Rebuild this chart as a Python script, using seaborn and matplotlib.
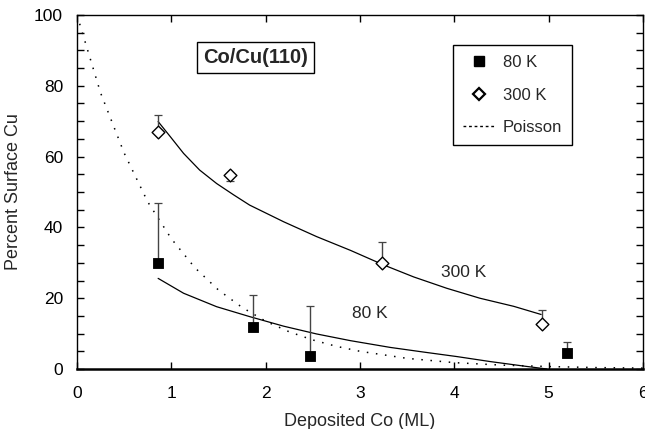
import matplotlib
matplotlib.use("Agg")
import matplotlib.pyplot as plt
from matplotlib.lines import Line2D
from matplotlib.ticker import MultipleLocator
import seaborn as sns
import pandas as pd

# Measured surface Cu fraction at 80 K (filled squares)
cov_80 = [0.86, 1.87, 2.47, 5.19]
cu_80 = [30.0, 12.0, 3.8, 4.5]
err_80_lo = [0.0, 0.0, 0.0, 0.0]
err_80_hi = [17.0, 8.8, 14.0, 3.0]

# Measured surface Cu fraction at 300 K (open diamonds)
cov_300 = [0.86, 1.62, 3.23, 4.93]
cu_300 = [67.0, 54.8, 30.0, 12.7]
err_300_lo = [0.0, 1.8, 0.0, 0.0]
err_300_hi = [4.8, 0.0, 6.0, 3.9]

# Fitted curves
fit300_x = [0.86, 0.99, 1.13, 1.30, 1.48, 1.66, 1.83, 2.19, 2.54, 2.90,
            3.25, 3.57, 3.92, 4.27, 4.63, 4.92]
fit300_y = [69.9, 65.6, 60.9, 56.2, 52.4, 49.2, 46.3, 41.6, 37.4, 33.5,
            29.4, 26.0, 22.8, 20.0, 17.7, 15.4]
fit80_x = [0.86, 1.13, 1.48, 1.83, 2.19, 2.54, 2.90, 3.32, 3.67, 4.03,
           4.38, 4.73, 4.98]
fit80_y = [25.6, 21.4, 17.6, 14.8, 12.1, 9.9, 8.0, 6.1, 4.8, 3.5,
           2.1, 0.85, 0.0]

# Poisson growth model
poisson_x = [0.0, 0.25, 0.5, 0.75, 1.0, 1.25, 1.5, 1.75, 2.0, 2.25, 2.5, 2.75,
             3.0, 3.5, 4.0, 4.5, 5.0, 5.5, 6.0]
poisson_y = [100.0, 78.0, 61.0, 47.2, 36.8, 28.6, 22.3, 17.4, 13.5, 10.5, 8.2, 6.4,
             5.0, 3.0, 1.8, 1.1, 0.7, 0.4, 0.25]

x_ticks = [0, 1, 2, 3, 4, 5, 6]
y_ticks = [0, 20, 40, 60, 80, 100]

sns.set_theme(style="ticks")
plt.rcParams["font.family"] = ["Liberation Sans", "DejaVu Sans"]

fig = plt.figure(figsize=(6.45, 4.29), dpi=100)
ax = fig.add_axes([77 / 645, 1 - 369 / 429, 566 / 645, 354 / 429])

sns.lineplot(x=poisson_x, y=poisson_y, ax=ax, color="black", lw=1.1,
             linestyle=(0, (1, 5)), sort=False)
sns.lineplot(x=fit300_x, y=fit300_y, ax=ax, color="black", lw=0.9, sort=False)
sns.lineplot(x=fit80_x, y=fit80_y, ax=ax, color="black", lw=0.9, sort=False)

ax.errorbar(cov_80, cu_80, yerr=[err_80_lo, err_80_hi], fmt="none",
            ecolor="#444444", elinewidth=1.0, capsize=3, capthick=0.9)
ax.errorbar(cov_300, cu_300, yerr=[err_300_lo, err_300_hi], fmt="none",
            ecolor="#444444", elinewidth=1.0, capsize=3, capthick=0.9)

df80 = pd.DataFrame({"x": cov_80, "y": cu_80})
df300 = pd.DataFrame({"x": cov_300, "y": cu_300})
sns.scatterplot(data=df80, x="x", y="y", ax=ax, marker="s", s=60,
                color="black", edgecolor="black", zorder=5)
sns.scatterplot(data=df300, x="x", y="y", ax=ax, marker="D", s=42,
                facecolor="white", edgecolor="black", linewidth=1.0, zorder=5)

ax.set_xlim(0, 6)
ax.set_ylim(0, 100)
ax.set_xticks(x_ticks)
ax.set_yticks(y_ticks)
ax.yaxis.set_minor_locator(MultipleLocator(5))
ax.tick_params(axis="both", which="both", direction="in", top=True, right=True,
               length=5, width=1.0, colors="black", labelsize=12.5)
ax.tick_params(axis="x", which="major", pad=12)
ax.tick_params(axis="y", which="major", pad=10)
for side, sp in ax.spines.items():
    sp.set_color("black")
    sp.set_linewidth(1.0)
ax.spines["bottom"].set_linewidth(1.8)

ax.set_xlabel("Deposited Co (ML)", fontsize=13, labelpad=9)
ax.set_ylabel("Percent Surface Cu", fontsize=13, labelpad=9)

ax.text(1.89, 88, "Co/Cu(110)", ha="center", va="center", fontsize=14.5,
        fontweight="bold",
        bbox=dict(boxstyle="square,pad=0.3", facecolor="white",
                  edgecolor="black", linewidth=1.0))
ax.text(4.1, 27.4, "300 K", ha="center", va="center", fontsize=12.5)
ax.text(3.1, 15.8, "80 K", ha="center", va="center", fontsize=12.5)

handles = [
    Line2D([], [], marker="s", color="black", ls="none", markersize=7),
    Line2D([], [], marker="D", markerfacecolor="white", markeredgecolor="black",
           markeredgewidth=1.6, ls="none", markersize=6),
    Line2D([], [], color="black", lw=1.0, linestyle=(0, (2, 2))),
]
leg = ax.legend(handles, ["80 K", "300 K", "Poisson"], loc="upper left",
                bbox_to_anchor=(0.664, 0.915), fontsize=12, frameon=True,
                fancybox=False, edgecolor="black", framealpha=1,
                labelspacing=1.05, handlelength=2.0, handletextpad=0.4,
                borderpad=0.6, borderaxespad=0)
leg.get_frame().set_linewidth(1.0)

fig.savefig("out.png", dpi=100)
